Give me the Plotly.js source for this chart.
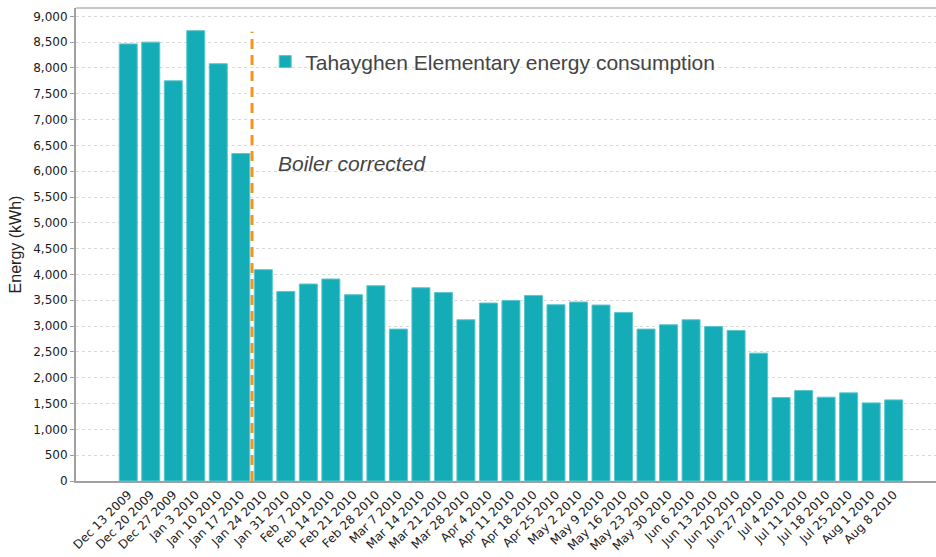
<!DOCTYPE html>
<html>
<head>
<meta charset="utf-8">
<script src="https://cdn.plot.ly/plotly-3.0.1.min.js"></script>
<style>html,body{margin:0;padding:0;background:#fff;}#chart{width:936px;height:557px;}</style>
</head>
<body>
<div id="chart"></div>
<script>
const weeks = ["Dec 13 2009","Dec 20 2009","Dec 27 2009","Jan 3 2010","Jan 10 2010","Jan 17 2010","Jan 24 2010","Jan 31 2010","Feb 7 2010","Feb 14 2010","Feb 21 2010","Feb 28 2010","Mar 7 2010","Mar 14 2010","Mar 21 2010","Mar 28 2010","Apr 4 2010","Apr 11 2010","Apr 18 2010","Apr 25 2010","May 2 2010","May 9 2010","May 16 2010","May 23 2010","May 30 2010","Jun 6 2010","Jun 13 2010","Jun 20 2010","Jun 27 2010","Jul 4 2010","Jul 11 2010","Jul 18 2010","Jul 25 2010","Aug 1 2010","Aug 8 2010"];
const energyKWh = [8465,8500,7752,8722,8082,6342,4093,3672,3815,3912,3608,3782,2942,3743,3652,3123,3447,3497,3594,3414,3466,3408,3265,2942,3026,3123,2993,2916,2476,1616,1752,1623,1707,1513,1571];
const seriesName = "Tahayghen Elementary energy consumption";
const annotationText = "Boiler corrected";
const correctionAfterIndex = 5.5;
const yTicks = [0,500,1000,1500,2000,2500,3000,3500,4000,4500,5000,5500,6000,6500,7000,7500,8000,8500,9000];

const trace = {
  type: 'bar',
  x: weeks.map((_, i) => i),
  y: energyKWh,
  name: seriesName,
  marker: {color: '#14adb7', line: {color: '#5cc7ce', width: 1}},
  showlegend: true,
  hoverinfo: 'x+y'
};

const layout = {
  width: 936, height: 557,
  margin: {l: 76, r: 0, t: 8, b: 76},
  paper_bgcolor: '#fff', plot_bgcolor: '#fff',
  bargap: 0.2,
  showlegend: true,
  legend: {
    x: 0.22, y: 0.886, xanchor: 'left', yanchor: 'middle',
    bgcolor: 'rgba(0,0,0,0)',
    font: {family: 'Liberation Sans, Arial, sans-serif', size: 21, color: '#444'}
  },
  xaxis: {
    type: 'linear',
    range: [-2.32, 35.88],
    tickmode: 'array',
    tickvals: weeks.map((_, i) => i),
    ticktext: weeks,
    tickangle: -45,
    tickfont: {family: 'DejaVu Sans, sans-serif', size: 12, color: '#1a1a1a'},
    showgrid: false,
    zeroline: false,
    showline: true, linecolor: '#a0a0a0', linewidth: 2,
    ticks: ''
  },
  yaxis: {
    range: [0, 9161],
    tickmode: 'array',
    tickvals: yTicks,
    ticktext: yTicks.map(v => v.toLocaleString('en-US')),
    tickfont: {family: 'DejaVu Sans, sans-serif', size: 12, color: '#1a1a1a'},
    showgrid: true, gridcolor: '#d9d9d9', griddash: 'dot', gridwidth: 1,
    zeroline: false,
    showline: true, linecolor: '#a0a0a0', linewidth: 2,
    ticks: 'outside', ticklen: 4, tickcolor: '#a0a0a0',
    title: {text: 'Energy (kWh)', font: {family: 'Liberation Sans, Arial, sans-serif', size: 16, color: '#222'}, standoff: 8}
  },
  shapes: [
    {type: 'line', xref: 'x', yref: 'y', x0: correctionAfterIndex, x1: correctionAfterIndex, y0: 0, y1: 8700,
     line: {color: '#f7941d', width: 3, dash: '10px,6px'}},
    {type: 'line', xref: 'paper', yref: 'paper', x0: 0, x1: 1, y0: 1, y1: 1,
     line: {color: '#c8c8c8', width: 2}}
  ],
  annotations: [
    {text: annotationText, xref: 'paper', yref: 'paper', x: 0.233, y: 0.672, xanchor: 'left', yanchor: 'middle',
     showarrow: false, font: {family: 'Liberation Sans, Arial, sans-serif', size: 21, color: '#444', style: 'italic'}}
  ]
};

Plotly.newPlot('chart', [trace], layout, {displayModeBar: false, staticPlot: true});
</script>
</body>
</html>
